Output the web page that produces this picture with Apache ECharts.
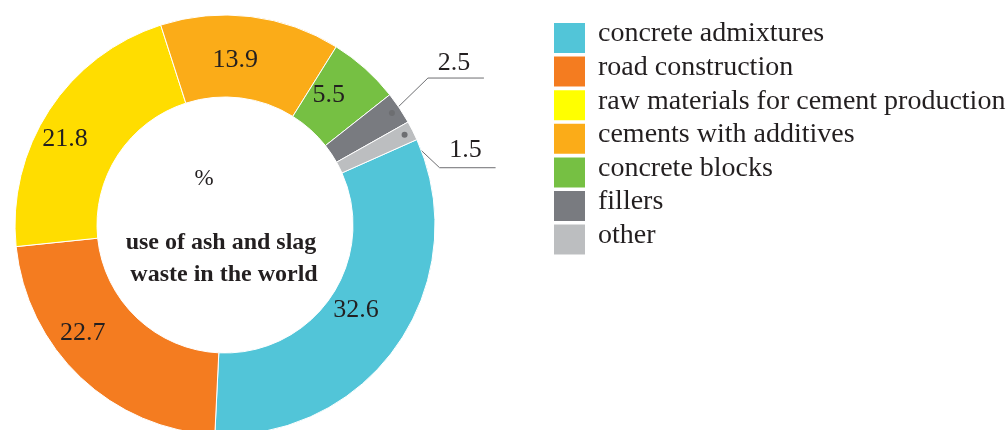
<!DOCTYPE html>
<html>
<head>
<meta charset="utf-8">
<script src="https://cdn.jsdelivr.net/npm/echarts@6/dist/echarts.min.js"></script>
<style>
  html, body { margin: 0; padding: 0; background: #ffffff; }
  #chart { width: 1006px; height: 430px; }
</style>
</head>
<body>
<div id="chart"></div>
<script>
// Shares of ash and slag waste use, %
const categories = [
  'concrete admixtures',
  'road construction',
  'raw materials for cement production',
  'cements with additives',
  'concrete blocks',
  'fillers',
  'other'
];
const shares = [32.6, 22.7, 21.8, 13.9, 5.5, 2.5, 1.5];
const centerUnit = '%';
const centerTitle = 'use of ash and slag\n waste in the world';

// Styling
const sliceColors = ['#52C5D8', '#F47C20', '#FFDD00', '#FBAC18', '#76C043', '#797B80', '#BCBEC0'];
const legendColors = ['#52C5D8', '#F47C20', '#FFFF00', '#FBAC18', '#76C043', '#797B80', '#BCBEC0'];
const SERIF = '"Liberation Serif", "Times New Roman", serif';
const INK = '#231F20';
const LEADER = '#6D6E71';

const CX = 225, CY = 225, R_IN = 128, R_OUT = 210, START = 24;
// hand nudges for the in-ring value labels
const labelNudge = [[-11, -12], [-24, -17], [-16, 8], [-11, 6], [-11, -2], [0, 0], [0, 0]];
// small slices get a leader line: dot inside the ring, a bent segment and a shelf
const leaderIdx = { 5: { bend: [36, -35] }, 6: { bend: [35, 33] } };
const DOT_R = 201, SHELF = 56;

const total = shares.reduce((a, b) => a + b, 0);
function midAngle(i) {
  let cum = 0;
  for (let j = 0; j < i; j++) cum += shares[j];
  return (START - (cum + shares[i] / 2) / total * 360) * Math.PI / 180;
}
function leaderPoints(i) {
  const a = midAngle(i);
  const p0 = [CX + DOT_R * Math.cos(a), CY - DOT_R * Math.sin(a)];
  const b = leaderIdx[i].bend;
  const p1 = [p0[0] + b[0], p0[1] + b[1]];
  const p2 = [p1[0] + SHELF, p1[1]];
  return [p0, p1, p2];
}

const chart = echarts.init(document.getElementById('chart'), null, { renderer: 'canvas' });

const seriesData = categories.map((name, i) => {
  const item = { name, value: shares[i], itemStyle: { color: sliceColors[i] } };
  if (leaderIdx[i]) {
    item.label = { position: 'outside' };
    item.labelLine = { show: true, lineStyle: { color: LEADER, width: 1 } };
  } else {
    item.label = { offset: labelNudge[i] };
  }
  return item;
});

const dots = Object.keys(leaderIdx).map(k => {
  const p = leaderPoints(+k)[0];
  return { type: 'circle', z: 100, shape: { cx: p[0], cy: p[1], r: 3 }, style: { fill: LEADER } };
});

chart.setOption({
  animation: false,
  legend: {
    orient: 'vertical',
    left: 552,
    top: 20,
    padding: 0,
    itemWidth: 33,
    itemHeight: 32,
    // rows are a bit taller than the swatch because of the lifted text
    itemGap: -1.4,
    icon: 'rect',
    selectedMode: false,
    data: categories.map((name, i) => ({ name, itemStyle: { color: legendColors[i] } })),
    formatter: name => '{t|' + name + '}',
    textStyle: {
      fontFamily: SERIF, fontSize: 28, color: INK, padding: [0, 0, 0, 7],
      // bottom padding lifts the text a little above the swatch centre
      rich: { t: { fontFamily: SERIF, fontSize: 28, color: INK, padding: [0, 0, 8, 0] } }
    }
  },
  graphic: [
    {
      type: 'text', z: 10, x: 204, y: 179,
      style: { text: centerUnit, font: '23px ' + SERIF, fill: INK, align: 'center', verticalAlign: 'middle' }
    },
    {
      type: 'text', z: 10, x: 221, y: 259,
      style: { text: centerTitle, font: 'bold 24px ' + SERIF, fill: INK, align: 'center', verticalAlign: 'middle', lineHeight: 32 }
    }
  ].concat(dots),
  series: [{
    type: 'pie',
    center: [CX, CY],
    radius: [R_IN, R_OUT],
    startAngle: START,
    clockwise: true,
    avoidLabelOverlap: false,
    itemStyle: { borderColor: '#ffffff', borderWidth: 1 },
    label: {
      show: true,
      position: 'inside',
      formatter: p => String(p.value),
      fontFamily: SERIF,
      fontSize: 26,
      color: INK
    },
    labelLine: { show: false },
    labelLayout: function (params) {
      const i = params.dataIndex;
      if (!leaderIdx[i]) return {};
      const pts = leaderPoints(i);
      return {
        x: (pts[1][0] + pts[2][0]) / 2 - 2,
        y: pts[1][1] - (i === 6 ? 5 : 2),
        align: 'center',
        verticalAlign: 'bottom',
        labelLinePoints: pts
      };
    },
    emphasis: { disabled: true },
    data: seriesData
  }]
});
</script>
</body>
</html>
